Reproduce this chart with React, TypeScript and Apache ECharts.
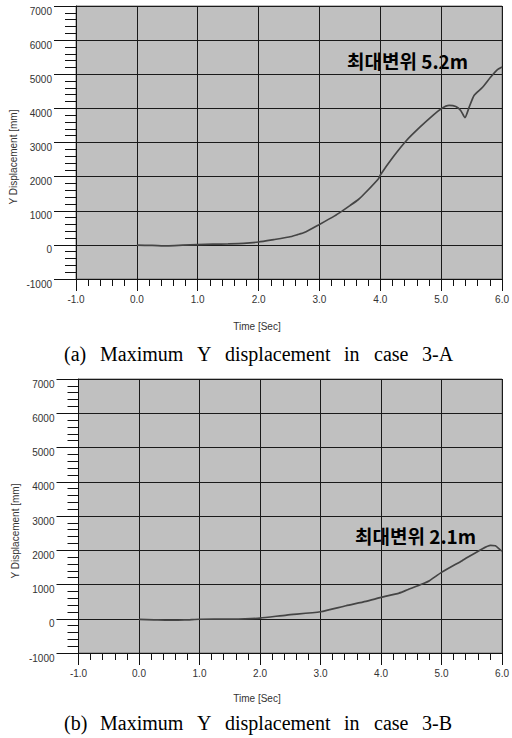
import React, { useEffect, useRef } from "react";
import * as echarts from "echarts";

// Case 3-A: time [s] and Y displacement [mm]
const timeA = [0.0, 0.25, 0.5, 0.75, 1.0, 1.25, 1.5, 1.75, 2.0, 2.25, 2.5, 2.64, 2.75, 3.0, 3.25, 3.37, 3.5, 3.64, 3.75, 3.97, 4.0, 4.21, 4.43, 4.65, 4.86, 5.0, 5.13, 5.24, 5.32, 5.39, 5.46, 5.54, 5.68, 5.81, 5.92, 6.0];
const dispA = [-10, -15, -30, -10, 10, 20, 30, 45, 85, 155, 230, 300, 360, 600, 850, 990, 1150, 1330, 1520, 1940, 2050, 2575, 3060, 3450, 3790, 3990, 4085, 4055, 3940, 3730, 4035, 4380, 4620, 4910, 5130, 5210];

// Case 3-B
const timeB = [0.0, 0.25, 0.5, 0.75, 1.0, 1.25, 1.5, 1.75, 2.0, 2.44, 3.0, 3.42, 3.75, 4.0, 4.3, 4.44, 4.68, 4.8, 5.0, 5.34, 5.67, 5.81, 5.89, 5.97, 6.0];
const dispB = [-20, -30, -40, -35, -15, -10, -10, -5, 20, 108, 205, 380, 506, 623, 750, 848, 1013, 1111, 1354, 1696, 2038, 2140, 2130, 2010, 1975];

const xLabelTitle = "Time [Sec]";
const yLabelTitle = "Y Displacement [mm]";
const noteA = "최대변위 5.2m";
const noteB = "최대변위 2.1m";
const captionA = ["(a)", "Maximum", "Y", "displacement", "in", "case", "3-A"];
const captionB = ["(b)", "Maximum", "Y", "displacement", "in", "case", "3-B"];

const captionX = [64, 100, 197, 225, 344, 374, 422];

const sans = "'Liberation Sans', Arial, sans-serif";

function makeX(gridIndex: number) {
  return {
    type: "value",
    gridIndex,
    min: -1,
    max: 6,
    interval: 1,
    axisLine: { show: true, onZero: false, lineStyle: { color: "#111", width: 1 } },
    axisTick: { show: true, length: 12, lineStyle: { color: "#111", width: 1 } },
    minorTick: { show: true, splitNumber: 5, length: 7, lineStyle: { color: "#111", width: 1 } },
    splitLine: { show: true, lineStyle: { color: "#1a1a1a", width: 1 } },
    axisLabel: {
      margin: 15,
      fontSize: 10,
      color: "#333",
      fontFamily: sans,
      formatter: (v: number) => v.toFixed(1),
    },
  };
}

function makeY(gridIndex: number) {
  return {
    type: "value",
    gridIndex,
    min: -1000,
    max: 7000,
    interval: 1000,
    axisLine: { show: true, onZero: false, lineStyle: { color: "#111", width: 1 } },
    axisTick: { show: true, length: 22, lineStyle: { color: "#111", width: 1 } },
    minorTick: { show: true, splitNumber: 5, length: 11, lineStyle: { color: "#111", width: 1 } },
    splitLine: { show: true, lineStyle: { color: "#1a1a1a", width: 1 } },
    axisLabel: {
      margin: 24,
      fontSize: 10,
      color: "#333",
      fontFamily: sans,
      verticalAlign: "top",
      formatter: (v: number) => String(v),
    },
  };
}

function captionTexts(words: string[], y: number) {
  return words.map((w, i) => ({
    type: "text",
    x: captionX[i],
    y,
    style: {
      text: w,
      font: "20px 'Liberation Serif', 'Times New Roman', serif",
      fill: "#000",
      textAlign: "left",
      textVerticalAlign: "middle",
    },
  }));
}

export default function App() {
  const ref = useRef<HTMLDivElement>(null);
  useEffect(() => {
    document.body.style.margin = "0";
    const chart = echarts.init(ref.current!, null, { renderer: "svg" });
    const option = {
      animation: false,
      backgroundColor: "#fff",
      grid: [
        { left: 76, top: 6, width: 430, height: 273, show: true, backgroundColor: "#c0c0c0", borderColor: "#777", borderWidth: 1 },
        { left: 78.5, top: 379, width: 428, height: 274, show: true, backgroundColor: "#c0c0c0", borderColor: "#777", borderWidth: 1 },
      ],
      xAxis: [makeX(0), makeX(1)],
      yAxis: [makeY(0), makeY(1)],
      series: [
        {
          type: "line",
          xAxisIndex: 0,
          yAxisIndex: 0,
          data: timeA.map((t, i) => [t, dispA[i]]),
          showSymbol: false,
          smooth: 0.2,
          lineStyle: { color: "#454545", width: 1.7 },
        },
        {
          type: "line",
          xAxisIndex: 1,
          yAxisIndex: 1,
          data: timeB.map((t, i) => [t, dispB[i]]),
          showSymbol: false,
          smooth: 0.2,
          lineStyle: { color: "#454545", width: 1.7 },
        },
      ],
      graphic: [
        { type: "text", x: 257, y: 326, style: { text: xLabelTitle, font: `10px ${sans}`, fill: "#333", textAlign: "center", textVerticalAlign: "middle" } },
        { type: "text", x: 257, y: 698, style: { text: xLabelTitle, font: `10px ${sans}`, fill: "#333", textAlign: "center", textVerticalAlign: "middle" } },
        { type: "text", x: 13, y: 157, rotation: Math.PI / 2, style: { text: yLabelTitle, font: `10px ${sans}`, fill: "#333", textAlign: "center", textVerticalAlign: "middle" } },
        { type: "text", x: 15, y: 531, rotation: Math.PI / 2, style: { text: yLabelTitle, font: `10px ${sans}`, fill: "#333", textAlign: "center", textVerticalAlign: "middle" } },
        { type: "text", x: 347, y: 60, style: { text: noteA, font: "bold 19px 'Noto Sans CJK KR', sans-serif", fill: "#000", textAlign: "left", textVerticalAlign: "middle" } },
        { type: "text", x: 355, y: 535, style: { text: noteB, font: "bold 19px 'Noto Sans CJK KR', sans-serif", fill: "#000", textAlign: "left", textVerticalAlign: "middle" } },
        ...captionTexts(captionA, 354),
        ...captionTexts(captionB, 723),
      ],
    };
    chart.setOption(option as any);
    return () => chart.dispose();
  }, []);
  return <div ref={ref} style={{ position: "fixed", left: 0, top: 0, width: 512, height: 738 }} />;
}
